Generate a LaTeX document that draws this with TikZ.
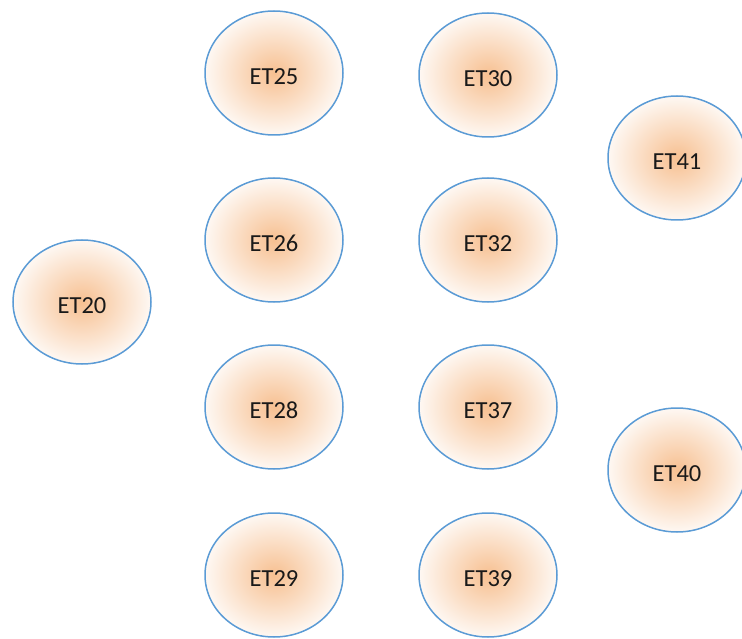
\documentclass[tikz,border=0pt]{standalone}
\usepackage{fontspec}
\setmainfont{Carlito}
\usetikzlibrary{shapes.geometric}
\definecolor{peach}{RGB}{247,192,145}
\definecolor{peachedge}{RGB}{254,248,243}
\definecolor{rimblue}{RGB}{91,155,213}
\tikzset{
  etnode/.style={ellipse, draw=rimblue, line width=1.5pt,
    inner color=peach, outer color=peachedge,
    minimum width=138pt, minimum height=124pt, inner sep=0pt,
    text height=23pt, text depth=0pt,
    font=\fontsize{24.5}{27}\selectfont, text=black!90}
}
\begin{document}
\begin{tikzpicture}[x=1pt,y=-1pt]
\useasboundingbox (0,0) rectangle (742,639);
\node[etnode] (et25) at (274,73) {ET25};
\node[etnode] (et30) at (488,75) {ET30};
\node[etnode] (et41) at (677,158) {ET41};
\node[etnode] (et26) at (274,240) {ET26};
\node[etnode] (et32) at (488,240) {ET32};
\node[etnode] (et20) at (82,302) {ET20};
\node[etnode] (et28) at (274,407) {ET28};
\node[etnode] (et37) at (488,407) {ET37};
\node[etnode] (et40) at (677,470) {ET40};
\node[etnode] (et29) at (274,575) {ET29};
\node[etnode] (et39) at (488,575) {ET39};
\end{tikzpicture}
\end{document}
